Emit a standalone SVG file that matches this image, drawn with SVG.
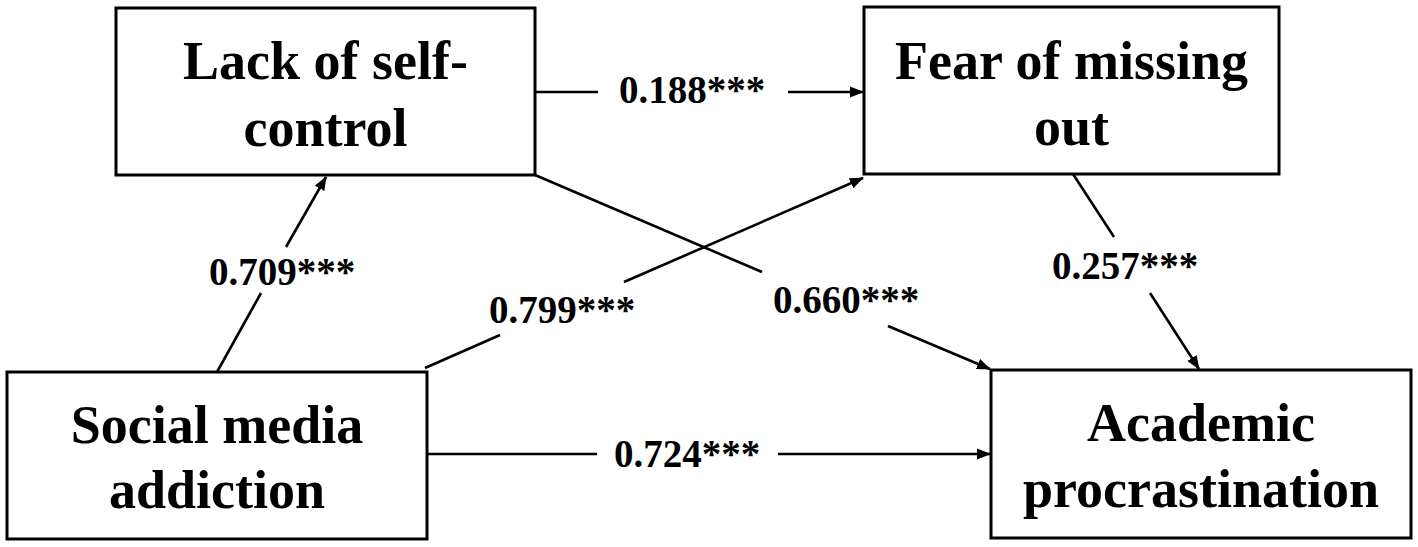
<svg xmlns="http://www.w3.org/2000/svg" width="1418" height="547" viewBox="0 0 1418 547">
<style>
.box{fill:#fff;stroke:#000;stroke-width:3}
.node{font-family:"Liberation Serif","Times New Roman",serif;font-weight:bold;font-size:54px;text-anchor:middle;fill:#000}
.lbl{font-family:"Liberation Serif","Times New Roman",serif;font-weight:bold;font-size:39px;text-anchor:middle;fill:#000}
.ln{fill:none;stroke:#000;stroke-width:2.6}
</style>
<defs>
<marker id="ah" markerUnits="userSpaceOnUse" markerWidth="14" markerHeight="12" refX="13" refY="6" orient="auto">
<path d="M0,0.5 L14,6 L0,11.5 z" fill="#000"/>
</marker>
</defs>
<rect width="1418" height="547" fill="#fff"/>
<g id="connectors">
<path class="ln" d="M535,92 L598,92"/>
<path class="ln" d="M788,92 L863,92" marker-end="url(#ah)"/>
<path class="ln" d="M217,372 L261,293"/>
<path class="ln" d="M286,247 L326,177" marker-end="url(#ah)"/>
<path class="ln" d="M425,368 L500,335"/>
<path class="ln" d="M624,282 L863,178" marker-end="url(#ah)"/>
<path class="ln" d="M535,175 L762,272"/>
<path class="ln" d="M888,326 L990,369" marker-end="url(#ah)"/>
<path class="ln" d="M1073,174 L1114,237"/>
<path class="ln" d="M1150,293 L1199,369" marker-end="url(#ah)"/>
<path class="ln" d="M427,454 L597,454"/>
<path class="ln" d="M778,454 L990,454" marker-end="url(#ah)"/>
</g>
<g id="labels">
<text class="lbl" x="692" y="103">0.188***</text>
<text class="lbl" x="282" y="285">0.709***</text>
<text class="lbl" x="562" y="323">0.799***</text>
<text class="lbl" x="846" y="313">0.660***</text>
<text class="lbl" x="1125" y="279">0.257***</text>
<text class="lbl" x="687" y="467">0.724***</text>
</g>
<g id="lack">
<rect class="box" x="116" y="8" width="419" height="167"/>
<text class="node" x="325.5" y="79">Lack of self-</text>
<text class="node" x="325.5" y="146">control</text>
</g>
<g id="fomo">
<rect class="box" x="864" y="7" width="415" height="167"/>
<text class="node" x="1071.5" y="79">Fear of missing</text>
<text class="node" x="1071.5" y="145">out</text>
</g>
<g id="sma">
<rect class="box" x="7" y="372" width="420" height="167"/>
<text class="node" x="217" y="443">Social media</text>
<text class="node" x="217" y="508">addiction</text>
</g>
<g id="ap">
<rect class="box" x="991" y="370" width="420" height="168"/>
<text class="node" x="1201" y="441">Academic</text>
<text class="node" x="1201" y="507">procrastination</text>
</g>
</svg>
